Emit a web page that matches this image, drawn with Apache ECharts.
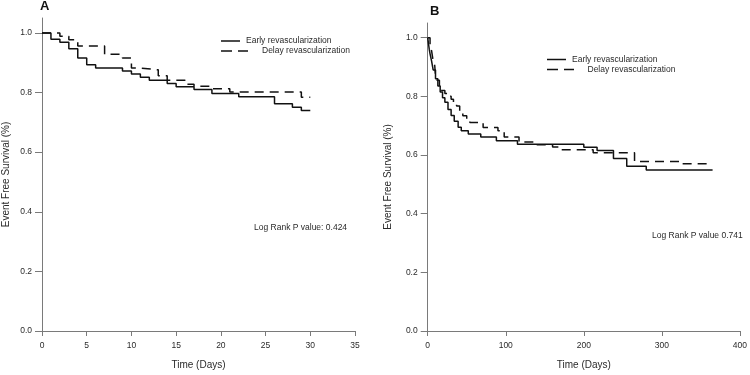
<!DOCTYPE html>
<html>
<head>
<meta charset="utf-8">
<script src="https://cdn.jsdelivr.net/npm/echarts@6/dist/echarts.min.js"></script>
<style>
  html, body { margin: 0; padding: 0; background: #fff; }
  #main { width: 750px; height: 375px; }
</style>
</head>
<body>
<div id="main"></div>
<script>
// Panel A - survival over 30 days
var aEarlyDays = [0, 1, 2, 3, 4, 5, 6, 9, 10, 11, 12, 14, 15, 17, 19, 22, 26, 28, 29, 30];
var aEarlySurv = [1.0, 0.979, 0.969, 0.947, 0.916, 0.893, 0.882, 0.872, 0.862, 0.851, 0.841, 0.830, 0.819, 0.810, 0.797, 0.786, 0.762, 0.751, 0.740, 0.740];
var aDelayDays = [0, 2, 3, 4, 7, 9, 10, 11, 13, 14, 16, 17, 19, 21, 29, 30];
var aDelaySurv = [1.0, 0.989, 0.977, 0.956, 0.928, 0.916, 0.882, 0.876, 0.856, 0.841, 0.828, 0.821, 0.813, 0.802, 0.784, 0.784];

// Panel B - survival over a year
var bEarlyDays = [0, 1, 2, 3, 5, 7, 10, 13, 16, 19, 22, 26, 30, 34, 39, 43, 52, 68, 88, 115, 200, 217, 238, 255, 280, 365];
var bEarlySurv = [1.0, 0.98, 0.96, 0.945, 0.92, 0.89, 0.86, 0.835, 0.815, 0.795, 0.78, 0.755, 0.735, 0.715, 0.695, 0.683, 0.672, 0.661, 0.649, 0.637, 0.626, 0.615, 0.588, 0.562, 0.549, 0.549];
var bDelayDays = [0, 3, 5, 7, 9, 10, 12, 15, 18, 22, 26, 30, 33, 37, 41, 45, 50, 54, 71, 90, 98, 117, 136, 160, 168, 212, 265, 322, 365];
var bDelaySurv = [1.0, 0.97, 0.955, 0.92, 0.905, 0.87, 0.855, 0.835, 0.82, 0.81, 0.80, 0.79, 0.78, 0.767, 0.75, 0.734, 0.72, 0.711, 0.694, 0.683, 0.661, 0.644, 0.635, 0.627, 0.618, 0.608, 0.578, 0.570, 0.570];

var yTicks = [0, 0.2, 0.4, 0.6, 0.8, 1.0];
var seriesNames = ['Early revascularization', 'Delay revascularization'];
var pValueA = 'Log Rank P value: 0.424';
var pValueB = 'Log Rank P value 0.741';

function zip(xs, ys) {
  return xs.map(function (x, i) { return [x, ys[i]]; });
}

var axisGrey = '#7a7a7a';
var textCol = '#2a2a2a';
var fontFam = '"Liberation Sans", Arial, sans-serif';

function xAx(idx, max, interval) {
  return {
    type: 'value', gridIndex: idx, min: 0, max: max, interval: interval,
    name: 'Time (Days)', nameLocation: 'middle', nameGap: 29,
    nameTextStyle: { fontSize: 10, color: textCol, fontFamily: fontFam },
    axisLine: { show: true, lineStyle: { color: axisGrey, width: 1 } },
    axisTick: { show: true, length: 5, lineStyle: { color: axisGrey } },
    axisLabel: { fontSize: 8.5, color: textCol, margin: 10, fontFamily: fontFam },
    splitLine: { show: false }
  };
}
function yAx(idx, gap) {
  return {
    type: 'value', gridIndex: idx, min: 0, max: 1.05,
    name: 'Event Free Survival (%)', nameLocation: 'middle', nameGap: gap, nameRotate: 90,
    nameTextStyle: { fontSize: 10, color: textCol, fontFamily: fontFam },
    axisLine: { show: true, lineStyle: { color: axisGrey, width: 1 } },
    axisTick: { show: true, length: 7, customValues: yTicks, lineStyle: { color: axisGrey } },
    axisLabel: {
      fontSize: 8.5, color: textCol, margin: 10, fontFamily: fontFam,
      customValues: yTicks,
      formatter: function (v) { return v.toFixed(1); }
    },
    splitLine: { show: false }
  };
}
function km(name, idx, data, dashed) {
  return {
    name: name, type: 'line', step: 'end', xAxisIndex: idx, yAxisIndex: idx,
    data: data, showSymbol: false, symbol: 'none', silent: true,
    lineStyle: { color: '#111', width: 1.5, type: dashed ? [9, 6] : 'solid' }
  };
}
function legendBlock(x, y, dx) {
  return [
    { type: 'line', shape: { x1: x, y1: y, x2: x + 19, y2: y }, style: { stroke: '#111', lineWidth: 1.5 } },
    { type: 'text', x: x + 25, y: y, style: { text: seriesNames[0], fontSize: 8.5, fill: textCol, fontFamily: fontFam, verticalAlign: 'middle' } },
    { type: 'line', shape: { x1: x, y1: y + 10, x2: x + 27, y2: y + 10 }, style: { stroke: '#111', lineWidth: 1.5, lineDash: [11, 6] } },
    { type: 'text', x: x + dx, y: y + 10, style: { text: seriesNames[1], fontSize: 8.5, fill: textCol, fontFamily: fontFam, verticalAlign: 'middle' } }
  ];
}

var chart = echarts.init(document.getElementById('main'));
var option = {
  animation: false,
  backgroundColor: '#fff',
  grid: [
    { left: 40, top: 18, width: 315, height: 314.7 },
    { left: 427.7, top: 23, width: 315.3, height: 311 }
  ],
  xAxis: [xAx(0, 35, 5), xAx(1, 400, 100)],
  yAxis: [yAx(0, 31), yAx(1, 34)],
  series: [
    km(seriesNames[0], 0, zip(aEarlyDays, aEarlySurv), false),
    km(seriesNames[1], 0, zip(aDelayDays, aDelaySurv), true),
    km(seriesNames[0], 1, zip(bEarlyDays, bEarlySurv), false),
    km(seriesNames[1], 1, zip(bDelayDays, bDelaySurv), true)
  ],
  graphic: [
    { type: 'text', x: 40, y: 13, style: { text: 'A', fontSize: 13, fontWeight: 'bold', fill: '#111', fontFamily: fontFam, verticalAlign: 'bottom' } },
    { type: 'text', x: 430, y: 18, style: { text: 'B', fontSize: 13, fontWeight: 'bold', fill: '#111', fontFamily: fontFam, verticalAlign: 'bottom' } },
    { type: 'text', x: 254, y: 228, style: { text: pValueA, fontSize: 8.5, fill: textCol, fontFamily: fontFam, verticalAlign: 'middle' } },
    { type: 'text', x: 652, y: 236, style: { text: pValueB, fontSize: 8.5, fill: textCol, fontFamily: fontFam, verticalAlign: 'middle' } }
  ].concat(legendBlock(221, 41, 41)).concat(legendBlock(547, 59.5, 40.5))
};
chart.setOption(option);
window.addEventListener('resize', function () { chart.resize(); });
</script>
</body>
</html>
